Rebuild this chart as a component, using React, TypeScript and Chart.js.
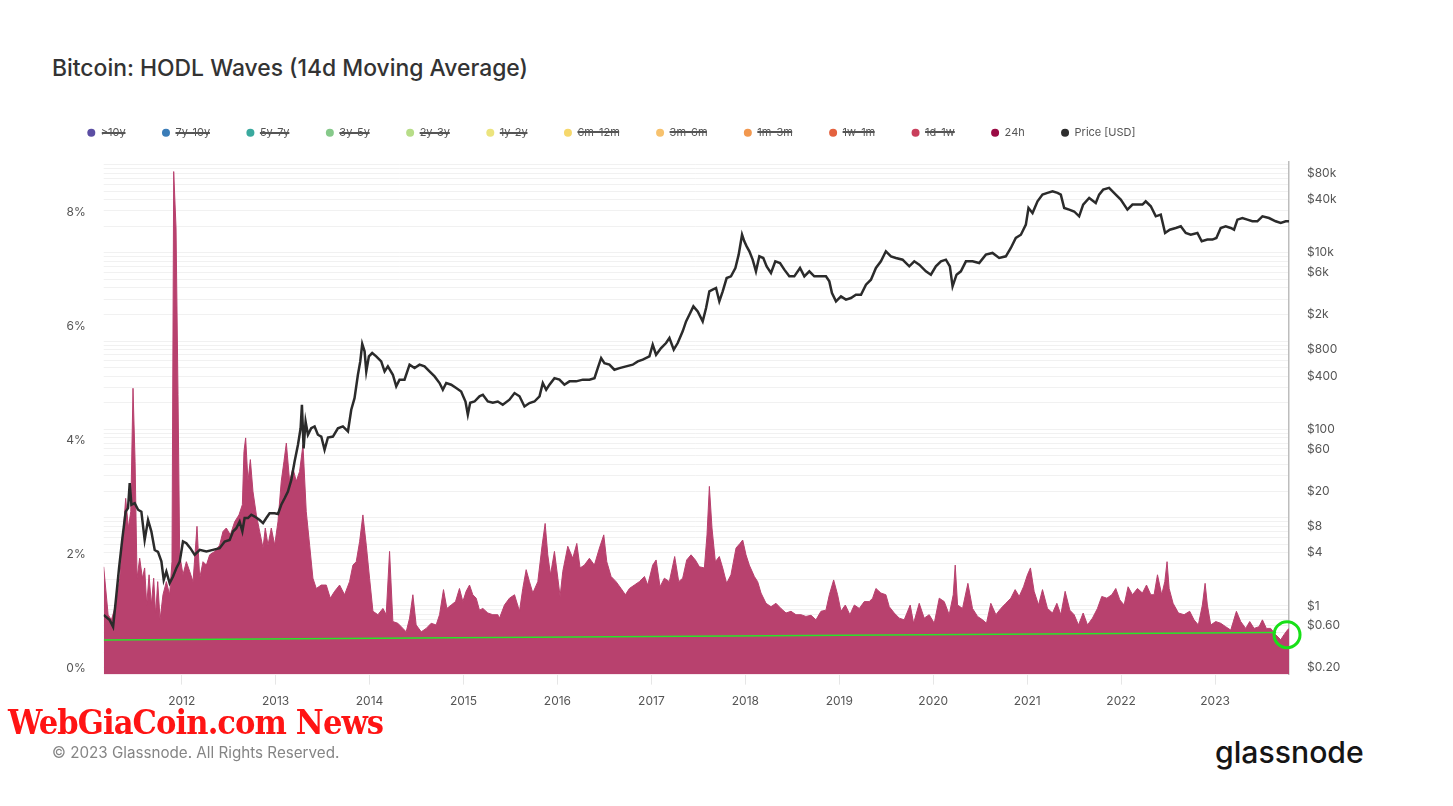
import React, { useEffect, useRef } from 'react';
import { Chart, registerables } from 'chart.js';

Chart.register(...registerables);

const seriesLabels = ['>10y', '7y-10y', '5y-7y', '3y-5y', '2y-3y', '1y-2y', '6m-12m', '3m-6m', '1m-3m', '1w-1m', '1d-1w', '24h', 'Price [USD]'];
const seriesColors = ['#5b4ea3', '#3b7db8', '#3aa99e', '#86c98a', '#b7dd88', '#ece47e', '#f6d86c', '#f7c26e', '#f2984f', '#e4623f', '#c93f5c', '#9a0b44', '#2e2e2e'];

const yearTicks = [2012, 2013, 2014, 2015, 2016, 2017, 2018, 2019, 2020, 2021, 2022, 2023];
const pctTicks = [0, 2, 4, 6, 8];
const priceTickLabels = [0.2, 0.6, 1, 4, 8, 20, 60, 100, 400, 800, 2000, 6000, 10000, 40000, 80000];

const hodlYears = [
  2011.17, 2011.217, 2011.252, 2011.288, 2011.341, 2011.376, 2011.404, 2011.433, 2011.458, 2011.482,
  2011.504, 2011.525, 2011.553, 2011.582, 2011.606, 2011.628, 2011.653, 2011.677, 2011.702, 2011.723,
  2011.745, 2011.770, 2011.801, 2011.837, 2011.872, 2011.897, 2011.915, 2011.940, 2011.961, 2011.979,
  2012.014, 2012.050, 2012.085, 2012.121, 2012.163, 2012.192, 2012.227, 2012.263, 2012.298, 2012.351,
  2012.404, 2012.440, 2012.475, 2012.518, 2012.564, 2012.610, 2012.646, 2012.663, 2012.681, 2012.706,
  2012.731, 2012.759, 2012.795, 2012.830, 2012.866, 2012.890, 2012.919, 2012.954, 2012.990, 2013.025,
  2013.060, 2013.089, 2013.114, 2013.149, 2013.184, 2013.220, 2013.255, 2013.291, 2013.326, 2013.362,
  2013.397, 2013.433, 2013.486, 2013.539, 2013.582, 2013.628, 2013.681, 2013.734, 2013.787, 2013.823,
  2013.858, 2013.894, 2013.929, 2013.965, 2014.000, 2014.036, 2014.089, 2014.142, 2014.177, 2014.213,
  2014.248, 2014.301, 2014.355, 2014.390, 2014.426, 2014.461, 2014.496, 2014.550, 2014.603, 2014.656,
  2014.709, 2014.745, 2014.787, 2014.823, 2014.869, 2014.915, 2014.957, 2014.993, 2015.028, 2015.064,
  2015.099, 2015.135, 2015.170, 2015.206, 2015.259, 2015.312, 2015.365,
  2015.383, 2015.436, 2015.489, 2015.543, 2015.596, 2015.631, 2015.667, 2015.702, 2015.738, 2015.791,
  2015.837, 2015.869, 2015.897, 2015.926, 2015.968, 2016.004, 2016.028, 2016.057, 2016.110, 2016.163,
  2016.206, 2016.241, 2016.287, 2016.340, 2016.393, 2016.447, 2016.493, 2016.525, 2016.571, 2016.624,
  2016.677, 2016.723, 2016.766, 2016.819, 2016.872, 2016.926, 2016.961, 2017.014, 2017.050, 2017.092,
  2017.138, 2017.191, 2017.248, 2017.291, 2017.333, 2017.376, 2017.422, 2017.468, 2017.511, 2017.564,
  2017.592, 2017.617, 2017.645, 2017.681, 2017.723, 2017.759, 2017.801, 2017.847, 2017.901, 2017.943,
  2017.972, 2018.007, 2018.042, 2018.096, 2018.131, 2018.167, 2018.220, 2018.273, 2018.326, 2018.379,
  2018.433, 2018.486, 2018.539, 2018.592, 2018.645, 2018.699, 2018.752, 2018.805, 2018.858, 2018.894,
  2018.940, 2018.982, 2019.018, 2019.064, 2019.113, 2019.160, 2019.213, 2019.266, 2019.319, 2019.355,
  2019.390, 2019.443, 2019.496,
  2019.532, 2019.585, 2019.638, 2019.691, 2019.755, 2019.791, 2019.851, 2019.904, 2019.957, 2020.011,
  2020.064, 2020.117, 2020.170, 2020.213, 2020.234, 2020.259, 2020.312, 2020.369, 2020.418, 2020.472,
  2020.525, 2020.567, 2020.613, 2020.667, 2020.720, 2020.773, 2020.826, 2020.872, 2020.915, 2020.961,
  2021.003, 2021.035, 2021.074, 2021.121, 2021.163, 2021.216, 2021.270, 2021.316, 2021.358, 2021.404,
  2021.454, 2021.500, 2021.546, 2021.596, 2021.642, 2021.695, 2021.748, 2021.794, 2021.848, 2021.901,
  2021.943, 2021.986, 2022.032, 2022.074, 2022.121, 2022.174, 2022.227, 2022.270, 2022.316, 2022.351,
  2022.387, 2022.432, 2022.465, 2022.489, 2022.511, 2022.553, 2022.610, 2022.670, 2022.730, 2022.776,
  2022.822, 2022.865, 2022.894, 2022.918, 2022.954, 2023.007, 2023.060, 2023.113, 2023.167, 2023.227,
  2023.273, 2023.326, 2023.369, 2023.415, 2023.468, 2023.504, 2023.546, 2023.592, 2023.645, 2023.699,
  2023.734, 2023.770, 2023.787,
];

const hodl24h = [
  1.89, 1.05, 0.96, 1.16, 1.69, 2.45, 3.09, 2.57, 2.86, 5.02,
  3.74, 1.69, 2.04, 1.69, 1.87, 1.22, 1.75, 1.22, 1.69, 1.05,
  1.63, 0.96, 1.40, 1.63, 1.40, 1.98, 8.82, 7.83, 4.91, 2.10,
  1.75, 1.98, 1.81, 1.63, 2.60, 1.69, 1.98, 1.92, 2.10, 2.16,
  2.27, 2.51, 2.57, 2.45, 2.68, 2.80, 2.98, 3.91, 4.15, 3.39,
  3.77, 3.21, 2.80, 2.51, 2.22, 2.57, 2.27, 2.57, 2.27, 2.68,
  3.39, 3.74, 4.06, 3.39, 3.62, 3.39, 3.56, 4.03, 2.86, 2.27,
  1.69, 1.51, 1.57, 1.57, 1.34, 1.46, 1.57, 1.40, 1.63, 1.92,
  1.98, 2.33, 2.80, 2.27, 1.69, 1.11, 1.05, 1.16, 1.05, 2.16,
  0.93, 0.90, 0.81, 0.75, 0.99, 1.40, 0.87, 0.75, 0.81, 0.90,
  0.87, 1.05, 1.49, 1.16, 1.22, 1.28, 1.51, 1.28, 1.46, 1.57,
  1.40, 1.34, 1.13, 1.16, 1.08, 1.05, 1.05,
  0.99, 1.22, 1.34, 1.40, 1.11, 1.51, 1.84, 1.63, 1.43, 1.63,
  2.27, 2.65, 2.10, 1.75, 2.16, 1.69, 1.37, 1.81, 2.25, 2.04,
  2.30, 1.87, 1.92, 2.04, 1.92, 2.22, 2.45, 1.98, 1.72, 1.63,
  1.51, 1.40, 1.51, 1.57, 1.63, 1.72, 1.57, 1.92, 2.01, 1.54,
  1.69, 1.63, 2.07, 1.63, 1.69, 2.01, 2.10, 2.01, 1.89, 1.87,
  2.45, 3.30, 2.57, 1.98, 2.07, 1.87, 1.60, 1.75, 2.22, 2.30,
  2.36, 2.10, 1.92, 1.72, 1.63, 1.43, 1.25, 1.19, 1.25, 1.16,
  1.08, 1.11, 1.05, 1.05, 1.02, 1.04, 0.96, 1.11, 1.13, 1.40,
  1.66, 1.40, 1.11, 1.22, 1.05, 1.22, 1.16, 1.28, 1.28, 1.34,
  1.51, 1.43, 1.40,
  1.19, 1.08, 0.99, 0.96, 1.22, 0.90, 1.25, 0.99, 1.05, 0.90,
  1.34, 1.28, 1.05, 1.40, 1.92, 1.22, 1.16, 1.60, 1.16, 1.02,
  0.96, 0.90, 1.25, 1.05, 1.16, 1.25, 1.34, 1.49, 1.37, 1.54,
  1.75, 1.87, 1.46, 1.22, 1.49, 1.16, 1.08, 1.25, 1.05, 1.46,
  1.13, 1.05, 0.87, 1.08, 0.87, 0.99, 1.16, 1.37, 1.34, 1.40,
  1.51, 1.31, 1.22, 1.54, 1.40, 1.51, 1.43, 1.57, 1.40, 1.40,
  1.75, 1.40, 1.63, 1.98, 1.51, 1.25, 1.08, 1.05, 1.11, 0.96,
  0.87, 1.22, 1.60, 1.22, 0.87, 0.93, 0.90, 0.84, 0.78, 1.11,
  0.93, 0.81, 0.93, 0.81, 0.84, 0.96, 0.81, 0.81, 0.70, 0.61,
  0.70, 0.78, 0.81,
];

const priceYears = [
  2011.17, 2011.234, 2011.270, 2011.305, 2011.333, 2011.369, 2011.404, 2011.429, 2011.447, 2011.465,
  2011.500, 2011.536, 2011.571, 2011.606, 2011.642, 2011.677, 2011.713, 2011.748, 2011.784, 2011.809,
  2011.837, 2011.872, 2011.908, 2011.943, 2011.979, 2012.014, 2012.050, 2012.092, 2012.138, 2012.192,
  2012.263, 2012.333, 2012.404, 2012.458, 2012.511, 2012.546, 2012.582, 2012.617, 2012.646, 2012.670,
  2012.706, 2012.741, 2012.777, 2012.830, 2012.866, 2012.901, 2012.936, 2012.989, 2013.025, 2013.060,
  2013.096, 2013.131, 2013.167, 2013.202, 2013.238, 2013.266, 2013.280, 2013.298, 2013.319, 2013.344,
  2013.379, 2013.415, 2013.450, 2013.486, 2013.521, 2013.557, 2013.610, 2013.663, 2013.716, 2013.770,
  2013.805, 2013.840, 2013.876, 2013.901, 2013.922, 2013.947, 2013.965, 2013.993, 2014.028, 2014.071,
  2014.124, 2014.160, 2014.195, 2014.248, 2014.284, 2014.319, 2014.372, 2014.426, 2014.479, 2014.532,
  2014.585, 2014.638, 2014.692, 2014.745, 2014.780, 2014.816, 2014.869, 2014.922, 2014.975, 2015.021,
  2015.046, 2015.071, 2015.117, 2015.170, 2015.206, 2015.259, 2015.312, 2015.365,
  2015.418, 2015.489, 2015.543, 2015.596, 2015.649, 2015.702, 2015.755, 2015.809, 2015.844, 2015.880,
  2015.915, 2015.968, 2016.021, 2016.074, 2016.128, 2016.199, 2016.270, 2016.340, 2016.394, 2016.429,
  2016.465, 2016.500, 2016.553, 2016.606, 2016.660, 2016.731, 2016.801, 2016.855, 2016.908, 2016.979,
  2017.014, 2017.050, 2017.103, 2017.156, 2017.192, 2017.238, 2017.280, 2017.333, 2017.369, 2017.404,
  2017.447, 2017.493, 2017.546, 2017.582, 2017.617, 2017.652, 2017.688, 2017.723, 2017.759, 2017.801,
  2017.847, 2017.894, 2017.929, 2017.965, 2017.989, 2018.014, 2018.043, 2018.078, 2018.113, 2018.149,
  2018.191, 2018.227, 2018.273, 2018.319, 2018.369, 2018.415, 2018.468, 2018.521, 2018.582, 2018.628,
  2018.681, 2018.734, 2018.787, 2018.858, 2018.894, 2018.922, 2018.965, 2019.018, 2019.071, 2019.124,
  2019.177, 2019.231, 2019.284, 2019.337, 2019.390, 2019.443, 2019.496,
  2019.550, 2019.603, 2019.674, 2019.745, 2019.798, 2019.851, 2019.922, 2019.975, 2020.028, 2020.082,
  2020.135, 2020.177, 2020.206, 2020.248, 2020.294, 2020.348, 2020.418, 2020.489, 2020.560, 2020.631,
  2020.702, 2020.773, 2020.826, 2020.879, 2020.933, 2020.986, 2021.014, 2021.057, 2021.110, 2021.163,
  2021.216, 2021.270, 2021.323, 2021.358, 2021.394, 2021.447, 2021.500, 2021.553, 2021.596, 2021.660,
  2021.730, 2021.766, 2021.809, 2021.872, 2021.943, 2021.996, 2022.067, 2022.121, 2022.174, 2022.227,
  2022.262, 2022.316, 2022.369, 2022.422, 2022.468, 2022.518, 2022.582, 2022.635, 2022.688, 2022.741,
  2022.812, 2022.858, 2022.918, 2022.972, 2023.014, 2023.060, 2023.113, 2023.167, 2023.202, 2023.238,
  2023.291, 2023.344, 2023.397, 2023.450, 2023.504, 2023.574, 2023.645, 2023.699, 2023.752, 2023.787,
];

const priceUsd = [
  0.79, 0.69, 0.58, 1.33, 2.67, 5.85, 11.7, 12.8, 24.6, 14.0,
  14.6, 12.3, 11.7, 5.6, 9.4, 7.0, 4.3, 4.1, 3.2, 1.97,
  2.45, 1.81, 2.15, 2.67, 3.18, 5.37, 5.14, 4.51, 3.79, 4.32,
  4.13, 4.32, 4.51, 5.37, 5.6, 6.97, 7.6, 9.0, 7.0, 9.9,
  9.9, 10.8, 10.3, 9.4, 8.66, 9.9, 11.2, 11.2, 11.0, 14.0,
  16.6, 19.8, 26.8, 43.3, 67, 103, 190, 61, 123, 87,
  103, 108, 87, 83, 58.7, 81, 83, 103, 108, 95,
  167, 226, 416, 589, 927, 766, 454, 672, 733, 672,
  589, 454, 518, 416, 307, 366, 366, 541, 495, 541,
  518, 454, 398, 335, 281, 335, 321, 294, 269, 207,
  147, 200, 207, 237, 247, 207, 200, 207,
  190, 217, 258, 237, 182, 199, 207, 237, 335, 281,
  321, 381, 366, 321, 350, 350, 366, 366, 381, 495,
  643, 564, 541, 474, 495, 518, 541, 589, 616, 672,
  910, 701, 834, 951, 1084, 800, 951, 1291, 1675, 1992,
  2476, 2173, 1675, 2372, 3664, 3828, 4000, 2825, 3664, 5188,
  5420, 6745, 9550, 16070, 13520, 11860, 10420, 8375, 6180, 9140,
  8750, 7035, 5915, 8020, 7675, 6455, 5420, 5420, 6745, 5420,
  6180, 5420, 5420, 5420, 4755, 3508, 2825, 3214, 2950, 3080,
  3357, 3357, 4365, 4967, 6745, 8020, 10420,
  9140, 8750, 8375, 7035, 8020, 7345, 6180, 5660, 7035, 8020,
  8375, 7035, 4180, 5660, 6180, 8020, 8020, 7675, 9550, 9980,
  8750, 9140, 11350, 14760, 16070, 20900, 32280, 28300, 38370, 45700,
  47750, 49900, 47750, 45700, 32280, 30900, 29450, 25950, 35240, 41900,
  36800, 45700, 52100, 54500, 45700, 40100, 30900, 35240, 35240, 35240,
  38370, 33730, 25950, 27100, 16800, 18300, 19150, 20000, 16800, 16070,
  16800, 13520, 14130, 14130, 14760, 19150, 20000, 19150, 18300, 23800,
  24830, 23800, 22800, 22800, 25950, 24830, 22800, 21830, 22800, 22800,
];

const trendYears = [2011.17, 2023.65];
const trendPct = [0.605, 0.737];
const markerYears = [2023.766];
const markerPct = [0.7];

function formatPrice(v: number): string {
  if (v >= 1000) return '$' + v / 1000 + 'k';
  if (v < 1) return '$' + v.toFixed(2);
  return '$' + v;
}

function priceGridValues(): number[] {
  const out: number[] = [];
  for (let e = -1; e <= 5; e++) {
    for (let m = 1; m <= 9; m++) {
      const v = e < 0 ? m / 10 ** -e : m * 10 ** e;
      if (v >= 0.17 && v <= 109000) out.push(v);
    }
  }
  return out;
}

export default function App() {
  const ref = useRef<HTMLCanvasElement>(null);

  useEffect(() => {
    if (!ref.current) return;
    Chart.defaults.font.family = 'Inter, "Noto Sans", sans-serif';
    const pts = (xs: number[], ys: number[]) => xs.map((x, i) => ({ x, y: ys[i] }));

    const hiddenSets = seriesLabels.slice(0, 11).map((label, i) => ({
      label,
      data: [] as any[],
      hidden: true,
      borderColor: seriesColors[i],
      backgroundColor: seriesColors[i],
      yAxisID: 'y',
      order: 5,
    }));

    const legendSpacer = {
      id: 'legendSpacer',
      beforeLayout(chart: any) {
        const lg = chart.legend;
        if (lg && !lg.__spaced) {
          const fit = lg.fit;
          lg.fit = function () {
            fit.call(this);
            this.height += 13;
          };
          lg.__spaced = true;
        }
      },
    };

    const gridVals = priceGridValues();

    const chart = new Chart(ref.current, {
      type: 'line',
      data: {
        datasets: [
          ...hiddenSets,
          {
            label: seriesLabels[11],
            data: pts(hodlYears, hodl24h),
            yAxisID: 'y',
            fill: 'origin',
            backgroundColor: '#b8416e',
            borderColor: '#b8416e',
            borderWidth: 1,
            pointRadius: 0,
            order: 3,
          },
          {
            label: seriesLabels[12],
            data: pts(priceYears, priceUsd),
            yAxisID: 'yPrice',
            borderColor: '#2b2b2b',
            backgroundColor: '#2b2b2b',
            borderWidth: 2.5,
            pointRadius: 0,
            fill: false,
            order: 2,
          },
          {
            label: 'trend',
            data: pts(trendYears, trendPct),
            yAxisID: 'y',
            borderColor: '#28e628',
            borderWidth: 1.5,
            pointRadius: 0,
            fill: false,
            order: 1,
          },
          {
            label: 'marker',
            data: pts(markerYears, markerPct),
            yAxisID: 'y',
            showLine: false,
            pointRadius: 13,
            pointBorderWidth: 3,
            pointBorderColor: '#18e018',
            pointBackgroundColor: 'rgba(0,0,0,0)',
            clip: false as any,
            order: 0,
          },
        ] as any,
      },
      options: {
        responsive: false,
        animation: false,
        devicePixelRatio: 1,
        events: [],
        layout: { padding: 0 },
        plugins: {
          tooltip: { enabled: false },
          legend: {
            position: 'top',
            align: 'start',
            labels: {
              usePointStyle: true,
              pointStyle: 'circle',
              boxHeight: 5.7,
              pointStyleWidth: 8,
              padding: 36.3,
              color: '#555',
              font: { size: 11 },
              filter: (item: any) => item.datasetIndex <= 12,
              sort: (a: any, b: any) => a.datasetIndex - b.datasetIndex,
              generateLabels: (c: any) =>
                (Chart.defaults.plugins.legend.labels.generateLabels as any)(c).map((l: any) => ({
                  ...l,
                  fillStyle: seriesColors[l.datasetIndex] ?? l.fillStyle,
                  strokeStyle: seriesColors[l.datasetIndex] ?? l.strokeStyle,
                  lineWidth: 0,
                  pointStyle: 'circle',
                })),
            },
          } as any,
        },
        scales: {
          x: {
            type: 'linear',
            min: 2011.17,
            max: 2023.787,
            afterBuildTicks: (s: any) => {
              s.ticks = yearTicks.map((v) => ({ value: v }));
            },
            ticks: {
              callback: (v: any) => String(v),
              autoSkip: false,
              maxRotation: 0,
              padding: 10,
              color: '#555',
              font: { size: 12 },
            },
            grid: { drawOnChartArea: false, drawTicks: true, tickLength: 10, color: '#e6e6e6' },
            border: { display: false },
          },
          y: {
            type: 'linear',
            position: 'left',
            min: 0,
            max: 9,
            afterBuildTicks: (s: any) => {
              s.ticks = pctTicks.map((v) => ({ value: v }));
            },
            afterFit: (s: any) => {
              s.width = 52.7;
            },
            ticks: {
              callback: (v: any) => v + '%',
              padding: 18,
              labelOffset: -6,
              color: '#555',
              font: { size: 12 },
            },
            grid: { display: false, drawTicks: false },
            border: { display: false },
          },
          yPrice: {
            type: 'logarithmic',
            position: 'right',
            min: 0.1667,
            max: 109000,
            afterBuildTicks: (s: any) => {
              s.ticks = gridVals.map((v) => ({ value: v }));
            },
            afterFit: (s: any) => {
              s.width = 163;
            },
            ticks: {
              autoSkip: false,
              callback: (v: any) => {
                const hit = priceTickLabels.find((l) => Math.abs(l - v) / l < 1e-6);
                return hit !== undefined ? formatPrice(hit) : '';
              },
              padding: 18,
              color: '#555',
              font: { size: 12 },
            },
            grid: { color: '#f1f1f1', drawTicks: false },
            border: { display: true, color: '#bdbdbd', width: 1.5 },
          },
        } as any,
      },
      plugins: [legendSpacer],
    });

    return () => chart.destroy();
  }, []);

  return (
    <div style={{ position: 'absolute', left: 0, top: 0, width: 1453, height: 806, background: '#fff', overflow: 'hidden' }}>
      <div
        style={{
          position: 'absolute',
          left: 52,
          top: 54,
          font: '500 22.9px Inter, "Noto Sans", sans-serif',
          lineHeight: '28px',
          color: '#333',
          whiteSpace: 'nowrap',
        }}
      >
        Bitcoin: HODL Waves (14d Moving Average)
      </div>
      <canvas
        ref={ref}
        width={1401}
        height={628}
        style={{ position: 'absolute', left: 51.3, top: 91, width: 1401, height: 628 }}
      />
      <div
        style={{
          position: 'absolute',
          left: 8,
          top: 702,
          font: 'bold 34px "DejaVu Serif Condensed", "DejaVu Serif", serif',
          lineHeight: '40px',
          color: '#ff1414',
          letterSpacing: '-0.9px',
          whiteSpace: 'nowrap',
        }}
      >
        WebGiaCoin.com News
      </div>
      <div
        style={{
          position: 'absolute',
          left: 52,
          top: 744,
          font: '15.2px Inter, "Noto Sans", sans-serif',
          lineHeight: '18px',
          color: '#858585',
          whiteSpace: 'nowrap',
        }}
      >
        © 2023 Glassnode. All Rights Reserved.
      </div>
      <div
        style={{
          position: 'absolute',
          left: 1215,
          top: 734,
          font: '500 30.2px Inter, "Noto Sans", sans-serif',
          lineHeight: '36px',
          color: '#151515',
          whiteSpace: 'nowrap',
        }}
      >
        glassnode
      </div>
    </div>
  );
}
